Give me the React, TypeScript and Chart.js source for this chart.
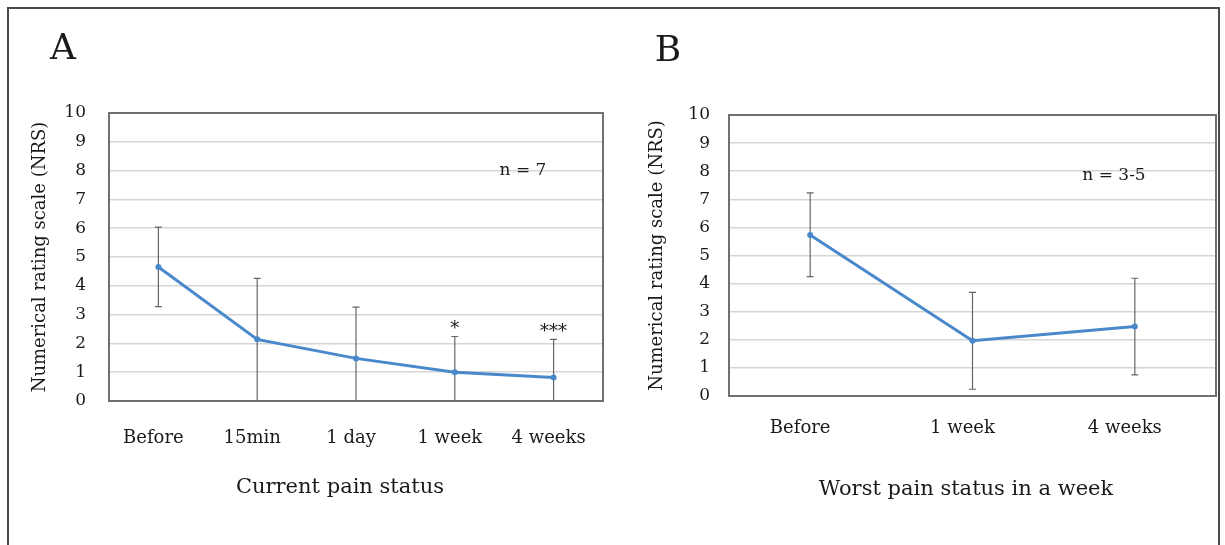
import React, { useEffect, useRef } from 'react';
import { Chart, registerables } from 'chart.js';

Chart.register(...registerables);

const FONT = '"DejaVu Serif", "Liberation Serif", serif';
const TEXT = '#1a1a1a';
const LINE = '#4a88cc';

// ---- Panel A: Current pain status ----
const categoriesA = ['Before', '15min', '1 day', '1 week', '4 weeks'];
const meanA = [4.65, 2.14, 1.48, 1.0, 0.82];
const upperA = [6.04, 4.26, 3.26, 2.24, 2.14];
const lowerA = [3.28, 0, 0, 0, 0];
const marksA = ['', '', '', '*', '***'];

// ---- Panel B: Worst pain status in a week ----
const categoriesB = ['Before', '1 week', '4 weeks'];
const meanB = [5.73, 1.97, 2.47];
const upperB = [7.23, 3.69, 4.19];
const lowerB = [4.25, 0.24, 0.75];
const marksB = ['', '', ''];

const yMin = 0;
const yMax = 10;
const yStep = 1;
const yTitle = 'Numerical rating scale (NRS)';

type Panel = {
  cats: string[];
  mean: number[];
  upper: number[];
  lower: number[];
  marks: string[];
  letter: string;
  nLabel: string;
  title: string;
  canvasLeft: number;
  canvasWidth: number;
  area: { left: number; top: number; right: number; bottom: number };
  yLabelPad: number;
  xLabelPad: number;
  yTitleX: number;
  xTitlePos: [number, number];
  letterPos: [number, number];
  nPos: [number, number];
  labelOffset: number;
};

const H = 545;

const panels: Panel[] = [
  {
    cats: categoriesA, mean: meanA, upper: upperA, lower: lowerA, marks: marksA,
    letter: 'A', nLabel: 'n = 7', title: 'Current pain status',
    canvasLeft: 0, canvasWidth: 612,
    area: { left: 109, top: 113, right: 603, bottom: 401 },
    yLabelPad: 23, xLabelPad: 19, yTitleX: 40, xTitlePos: [340, 488],
    letterPos: [63, 50], nPos: [523, 171], labelOffset: -5,
  },
  {
    cats: categoriesB, mean: meanB, upper: upperB, lower: lowerB, marks: marksB,
    letter: 'B', nLabel: 'n = 3-5', title: 'Worst pain status in a week',
    canvasLeft: 612, canvasWidth: 613,
    area: { left: 729 - 612, top: 115, right: 1216 - 612, bottom: 396 },
    yLabelPad: 19, xLabelPad: 14, yTitleX: 657 - 612, xTitlePos: [966, 490],
    letterPos: [668 - 612, 52], nPos: [1114, 176], labelOffset: -10,
  },
];

function PanelChart({ p }: { p: Panel }) {
  const ref = useRef<HTMLCanvasElement | null>(null);
  useEffect(() => {
    if (!ref.current) return;
    const padLeft = 18;
    const padBottom = 30;
    const pad = { left: padLeft, top: p.area.top, right: p.canvasWidth - p.area.right, bottom: padBottom };
    const yTitleFont = 18;
    const xTitleFont = 21;
    const yTitlePadTop = p.yTitleX - padLeft - (yTitleFont * 1.2) / 2;

    const overlay = {
      id: 'overlay' + p.letter,
      beforeDatasetsDraw(chart: any) {
        const { ctx, chartArea: a, scales } = chart;
        const x = scales.x;
        const y = scales.y;
        ctx.save();
        ctx.strokeStyle = '#707070';
        ctx.lineWidth = 2;
        ctx.strokeRect(a.left, a.top, a.right - a.left, a.bottom - a.top);
        ctx.strokeStyle = '#666666';
        ctx.lineWidth = 1.2;
        p.mean.forEach((_m, i) => {
          const px = x.getPixelForValue(i);
          const yt = y.getPixelForValue(p.upper[i]);
          const yb = y.getPixelForValue(p.lower[i]);
          ctx.beginPath();
          ctx.moveTo(px, yt);
          ctx.lineTo(px, yb);
          ctx.moveTo(px - 3.5, yt);
          ctx.lineTo(px + 3.5, yt);
          if (p.lower[i] > 0) {
            ctx.moveTo(px - 3.5, yb);
            ctx.lineTo(px + 3.5, yb);
          }
          ctx.stroke();
        });
        ctx.restore();
      },
      afterDraw(chart: any) {
        const { ctx, scales } = chart;
        const x = scales.x;
        const y = scales.y;
        ctx.save();
        ctx.fillStyle = TEXT;
        // significance marks
        ctx.font = `18px ${FONT}`;
        ctx.textAlign = 'center';
        ctx.textBaseline = 'alphabetic';
        p.marks.forEach((m, i) => {
          if (!m) return;
          ctx.fillText(m, x.getPixelForValue(i), y.getPixelForValue(p.upper[i]) - 2);
        });
        ctx.textBaseline = 'middle';
        // x axis title
        ctx.font = `${xTitleFont}px ${FONT}`;
        ctx.fillText(p.title, p.xTitlePos[0] - p.canvasLeft, p.xTitlePos[1]);
        // n label
        ctx.font = `17px ${FONT}`;
        ctx.fillText(p.nLabel, p.nPos[0] - p.canvasLeft, p.nPos[1]);
        // panel letter
        ctx.font = `36px ${FONT}`;
        ctx.fillText(p.letter, p.letterPos[0], p.letterPos[1]);
        ctx.restore();
      },
    };

    const chart = new Chart(ref.current, {
      type: 'line',
      data: {
        labels: p.cats,
        datasets: [
          {
            data: p.mean,
            borderColor: LINE,
            backgroundColor: LINE,
            borderWidth: 3,
            pointRadius: 3,
            pointBorderWidth: 0,
            pointBackgroundColor: LINE,
            tension: 0,
            fill: false,
          },
        ],
      },
      options: {
        responsive: false,
        animation: false,
        devicePixelRatio: 1,
        layout: { padding: pad },
        plugins: {
          legend: { display: false },
          tooltip: { enabled: false },
          title: { display: false },
        },
        scales: {
          x: {
            type: 'category',
            offset: true,
            grid: { display: false },
            border: { display: false },
            ticks: {
              font: { family: FONT, size: 18 },
              color: TEXT,
              padding: p.xLabelPad,
              labelOffset: p.labelOffset,
              maxRotation: 0,
              autoSkip: false,
            },
            title: { display: false },
            afterFit: (s: any) => {
              s.height = (H - padBottom) - p.area.bottom;
            },
          },
          y: {
            min: yMin,
            max: yMax,
            ticks: {
              stepSize: yStep,
              font: { family: FONT, size: 17 },
              color: TEXT,
              padding: p.yLabelPad,
            },
            grid: { color: '#d6d6d6', lineWidth: 1.5, drawTicks: false },
            border: { display: false },
            title: {
              display: true,
              text: yTitle,
              font: { family: FONT, size: yTitleFont },
              color: TEXT,
              padding: { top: yTitlePadTop, bottom: 0 },
            },
            afterFit: (s: any) => {
              s.width = p.area.left - padLeft;
            },
          },
        },
      } as any,
      plugins: [overlay],
    });
    return () => chart.destroy();
  }, [p]);

  return (
    <canvas
      ref={ref}
      width={p.canvasWidth}
      height={H}
      style={{ position: 'absolute', left: p.canvasLeft, top: 0, width: p.canvasWidth, height: H }}
    />
  );
}

export default function App() {
  return (
    <div
      style={{
        position: 'absolute',
        left: 0,
        top: 0,
        width: 1225,
        height: H,
        overflow: 'hidden',
        background: '#ffffff',
      }}
    >
      <div
        style={{
          position: 'absolute',
          left: 7,
          top: 7,
          width: 1209,
          height: 700,
          border: '2px solid #4a4a4a',
        }}
      />
      {panels.map((p) => (
        <PanelChart key={p.letter} p={p} />
      ))}
    </div>
  );
}
